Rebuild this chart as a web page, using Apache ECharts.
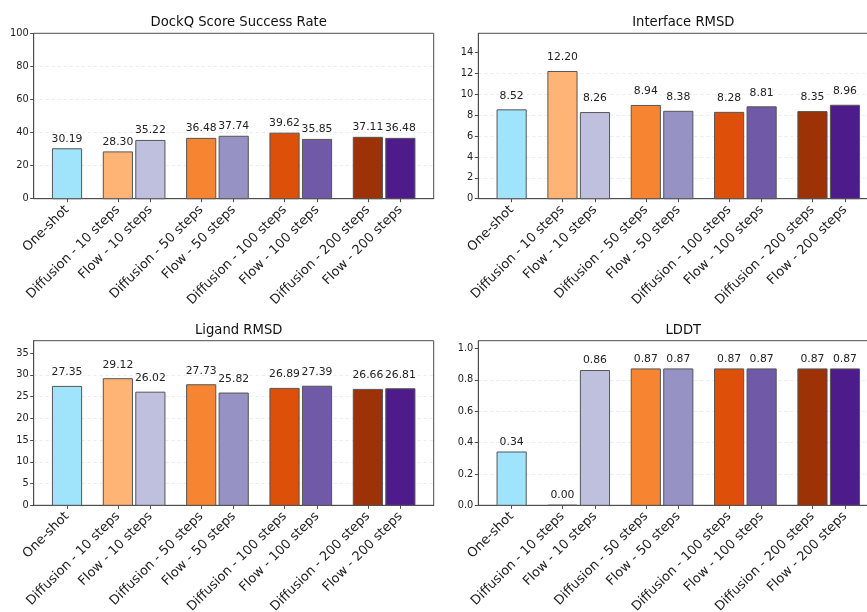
<!DOCTYPE html>
<html>
<head>
<meta charset="utf-8">
<script src="https://cdn.jsdelivr.net/npm/echarts@6/dist/echarts.min.js"></script>
<style>
  html, body { margin: 0; padding: 0; background: #fff; }
  #chart { width: 867px; height: 612px; }
</style>
</head>
<body>
<div id="chart"></div>
<script>
// Method names along the x axis
const methods = [
  'One-shot',
  'Diffusion - 10 steps', 'Flow - 10 steps',
  'Diffusion - 50 steps', 'Flow - 50 steps',
  'Diffusion - 100 steps', 'Flow - 100 steps',
  'Diffusion - 200 steps', 'Flow - 200 steps'
];

// Metric values, one entry per method
const dockqSuccess = [30.19, 28.30, 35.22, 36.48, 37.74, 39.62, 35.85, 37.11, 36.48];
const interfaceRmsd = [8.52, 12.20, 8.26, 8.94, 8.38, 8.28, 8.81, 8.35, 8.96];
const ligandRmsd = [27.35, 29.12, 26.02, 27.73, 25.82, 26.89, 27.39, 26.66, 26.81];
const lddt = [0.34, 0.00, 0.86, 0.87, 0.87, 0.87, 0.87, 0.87, 0.87];

// Panel titles
const panelTitles = ['DockQ Score Success Rate', 'Interface RMSD', 'Ligand RMSD', 'LDDT'];

// Y tick labels per panel
const dockqTicks = [0, 20, 40, 60, 80, 100];
const irmsdTicks = [0, 2, 4, 6, 8, 10, 12, 14];
const lrmsdTicks = [0, 5, 10, 15, 20, 25, 30, 35];
const lddtTicks = [0, 0.2, 0.4, 0.6, 0.8, 1.0];

// ---- layout & style ----
// bar centres on the x scale: one-shot alone, then diffusion/flow pairs
const xPos = [0, 0.61, 1, 1.61, 2, 2.61, 3, 3.61, 4];
const BAR_W = 0.35;
const colors = [
  '#a0e4fc',
  '#fdb474', '#bfc0de',
  '#f68431', '#9692c3',
  '#dd500a', '#7059a6',
  '#9c3205', '#4e1c8a'
];

const panels = [
  { values: dockqSuccess, ticks: dockqTicks, max: 100, fmt: v => String(v), left: 33.7, top: 33.3, height: 165.4, labelGap: 4 },
  { values: interfaceRmsd, ticks: irmsdTicks, max: 15.86, fmt: v => String(v), left: 478.3, top: 33.3, height: 165.4, labelGap: 8 },
  { values: ligandRmsd, ticks: lrmsdTicks, max: 37.86, fmt: v => String(v), left: 33.7, top: 340.7, height: 164.6, labelGap: 8 },
  { values: lddt, ticks: lddtTicks, max: 1.05, fmt: v => v.toFixed(1), left: 478.3, top: 340.7, height: 164.6, labelGap: 4 }
];

const PANEL_W = 400;
const TEXT = '#222';
const AXIS = '#4d4d4d';
const FONT = 'DejaVu Sans';

function nearestName(v) {
  let best = 0;
  for (let i = 1; i < xPos.length; i++) {
    if (Math.abs(xPos[i] - v) < Math.abs(xPos[best] - v)) best = i;
  }
  return methods[best];
}

const option = {
  animation: false,
  backgroundColor: '#fff',
  textStyle: { fontFamily: FONT },
  title: [], grid: [], xAxis: [], yAxis: [], series: []
};

panels.forEach((p, k) => {
  option.title.push({
    text: panelTitles[k],
    left: p.left + PANEL_W / 2,
    top: p.top - 22,
    textAlign: 'center',
    textStyle: { fontFamily: FONT, fontSize: 13.2, fontWeight: 'normal', color: '#111' }
  });
  option.grid.push({
    left: p.left, top: p.top, width: PANEL_W, height: p.height,
    outerBoundsMode: 'none',
    containLabel: false,
    show: true, borderColor: AXIS, borderWidth: 1, backgroundColor: 'transparent'
  });
  option.xAxis.push({
    type: 'value', gridIndex: k, min: -0.4, max: 4.4,
    axisLine: { show: true, onZero: false, lineStyle: { color: AXIS, width: 1 } },
    axisTick: { show: true, customValues: xPos, length: 3.5, lineStyle: { color: AXIS } },
    axisLabel: {
      customValues: xPos, rotate: 45, margin: 9,
      fontFamily: FONT, fontSize: 13, color: TEXT,
      formatter: v => nearestName(v)
    },
    splitLine: { show: false }
  });
  option.yAxis.push({
    type: 'value', gridIndex: k, min: 0, max: p.max,
    axisLine: { show: true, onZero: false, lineStyle: { color: AXIS, width: 1 } },
    axisTick: { show: true, customValues: p.ticks, length: 3.5, lineStyle: { color: AXIS } },
    axisLabel: {
      customValues: p.ticks, margin: 5,
      fontFamily: FONT, fontSize: 9.8, color: TEXT,
      formatter: v => p.fmt(v)
    },
    splitLine: {
      show: true, showMaxLine: false, showMinLine: false,
      lineStyle: { color: '#e6e6e6', type: [3, 3], width: 0.8 }
    }
  });
  option.series.push({
    type: 'custom',
    xAxisIndex: k, yAxisIndex: k,
    encode: { x: 0, y: 1 },
    data: p.values.map((v, i) => [xPos[i], v]),
    renderItem: (params, api) => {
      const x = api.value(0), y = api.value(1);
      const a = api.coord([x - BAR_W / 2, y]);
      const b = api.coord([x + BAR_W / 2, 0]);
      return {
        type: 'rect',
        shape: { x: a[0], y: a[1], width: b[0] - a[0], height: b[1] - a[1] },
        style: { fill: colors[params.dataIndex], stroke: '#555', lineWidth: 1 },
        textContent: {
          style: { text: y.toFixed(2), fontFamily: FONT, fontSize: 10.8, fill: TEXT }
        },
        textConfig: { position: 'top', distance: p.labelGap }
      };
    }
  });
});

const chart = echarts.init(document.getElementById('chart'), null, { renderer: 'canvas' });
chart.setOption(option);
</script>
</body>
</html>
